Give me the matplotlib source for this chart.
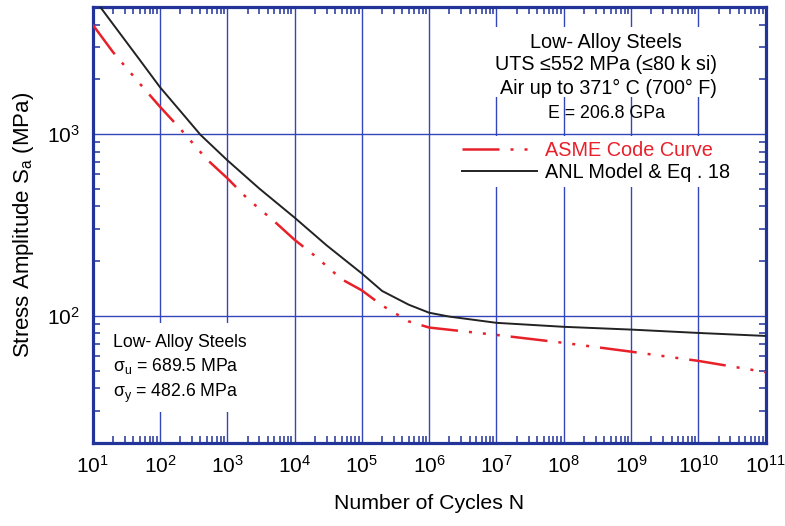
import numpy as np
import matplotlib.pyplot as plt
from matplotlib.patches import Rectangle
from matplotlib.ticker import LogLocator, FixedLocator, FixedFormatter, NullFormatter

plt.rcParams['font.family'] = ['Liberation Sans', 'DejaVu Sans']
plt.rcParams['mathtext.fontset'] = 'custom'
plt.rcParams['mathtext.rm'] = 'Liberation Sans'
plt.rcParams['mathtext.it'] = 'Liberation Sans'

# ASME code curve (MPa)
asme_n = [1e1, 2e1, 5e1, 1e2, 2e2, 5e2, 1e3, 2e3, 5e3, 1e4, 2e4, 5e4, 1e5, 2e5, 5e5, 1e6,
          1e7, 1e8, 1e9, 1e10, 1e11]
asme_s = [3999, 2827, 1896, 1413, 1069, 724, 572, 441, 331, 262, 214, 159, 138, 114, 93.1, 86.2,
          78.5, 71.0, 63.5, 56.5, 49.0]

# ANL model, Eq. 18
anl_n = [1e1, 2e1, 5e1, 1e2, 2e2, 4e2, 1e3, 3e3, 1e4, 3e4, 1e5, 2e5, 5e5, 1e6, 2e6,
         1e7, 1e8, 1e9, 1e10, 1e11]
anl_s = [5690, 4030, 2560, 1811, 1340, 990, 718, 501, 347, 244, 171, 137, 115, 104, 99,
         91.5, 87.0, 84.0, 80.5, 77.5]

x_decades = list(range(1, 12))
y_decades = [2, 3]

frame_col = '#22339a'
grid_col = '#3346b8'
red = '#e8202a'

fig = plt.figure(figsize=(7.85, 5.26), dpi=100)
ax = fig.add_axes([0.118, 0.158, 0.8574, 0.8288])
ax.set_xscale('log')
ax.set_yscale('log')
ax.set_xlim(10, 1e11)
ax.set_ylim(20, 5000)

for s in ax.spines.values():
    s.set_color(frame_col)
    s.set_linewidth(2.3)

# decade grid
for d in x_decades[1:-1]:
    ax.axvline(10.0 ** d, color=grid_col, lw=1.0, zorder=1)
for d in y_decades:
    ax.axhline(10.0 ** d, color=grid_col, lw=1.0, zorder=1)

# white backing for the text blocks
ax.add_patch(Rectangle((0.022, 0.07), 0.21, 0.205, transform=ax.transAxes,
                       facecolor='white', edgecolor='none', zorder=2))
ax.add_patch(Rectangle((0.56, 0.794), 0.41, 0.16, transform=ax.transAxes,
                       facecolor='white', edgecolor='none', zorder=2))

ax.plot(asme_n, asme_s, color=red, lw=1.8, zorder=4,
        linestyle=(0, (14.8, 4.4, 1.2, 4.4, 1.2, 4.4, 1.2, 4.4)),
        label='ASME Code Curve')
ax.plot(anl_n, anl_s, color='#222222', lw=1.4, zorder=4, label='ANL Model & Eq . 18')

ax.xaxis.set_major_locator(FixedLocator([10.0 ** d for d in x_decades]))
ax.xaxis.set_major_formatter(FixedFormatter([r'$\mathregular{10^{%d}}$' % d for d in x_decades]))
ax.yaxis.set_major_locator(FixedLocator([10.0 ** d for d in y_decades]))
ax.yaxis.set_major_formatter(FixedFormatter([r'$\mathregular{10^{%d}}$' % d for d in y_decades]))
ax.xaxis.set_minor_locator(LogLocator(base=10, subs=np.arange(2, 10), numticks=20))
ax.yaxis.set_minor_locator(LogLocator(base=10, subs=np.arange(2, 10), numticks=20))
ax.xaxis.set_minor_formatter(NullFormatter())
ax.yaxis.set_minor_formatter(NullFormatter())
ax.tick_params(which='both', direction='in', top=True, right=True, color=frame_col)
ax.tick_params(which='major', length=0, labelsize=15)
ax.tick_params(axis='x', which='major', pad=9)
ax.tick_params(axis='y', which='major', pad=9)
ax.tick_params(which='minor', length=5, width=1.1)

ax.set_xlabel('Number of Cycles N', fontsize=15.3, labelpad=12)
ax.set_ylabel(r'Stress Amplitude $\mathregular{S_a}$ (MPa)', fontsize=16, labelpad=8)

# upper-right annotation
ax.text(0.763, 0.918, 'Low- Alloy Steels', transform=ax.transAxes, ha='center', va='center',
        fontsize=14.3, zorder=5)
ax.text(0.763, 0.867, 'UTS \u2264552 MPa (\u226480 k si)', transform=ax.transAxes,
        ha='center', va='center', fontsize=14.2, zorder=5)
ax.text(0.766, 0.812, 'Air up to 371\u00b0 C (700\u00b0 F)', transform=ax.transAxes,
        ha='center', va='center', fontsize=14.2, zorder=5)
ax.text(0.763, 0.755, 'E = 206.8 GPa', transform=ax.transAxes, ha='center', va='center',
        fontsize=12.8, zorder=5)

leg = ax.legend(loc='upper left', bbox_to_anchor=(0.541, 0.704), fontsize=14.3,
                frameon=True, facecolor='white', edgecolor='none', framealpha=1,
                handlelength=3.8, handletextpad=0.4, labelspacing=0.15,
                borderpad=0.25, borderaxespad=0)
leg.get_texts()[0].set_color(red)
leg.set_zorder(6)

# lower-left annotation
ax.text(0.03, 0.231, 'Low- Alloy Steels', transform=ax.transAxes, ha='left', va='center',
        fontsize=12.7, zorder=5)
ax.text(0.03, 0.177, r'$\mathregular{\sigma_u}$ = 689.5 MPa', transform=ax.transAxes,
        ha='left', va='center', fontsize=12.7, zorder=5)
ax.text(0.03, 0.114, r'$\mathregular{\sigma_y}$ = 482.6 MPa', transform=ax.transAxes,
        ha='left', va='center', fontsize=12.7, zorder=5)

fig.savefig('out.png', dpi=100, facecolor='white')
